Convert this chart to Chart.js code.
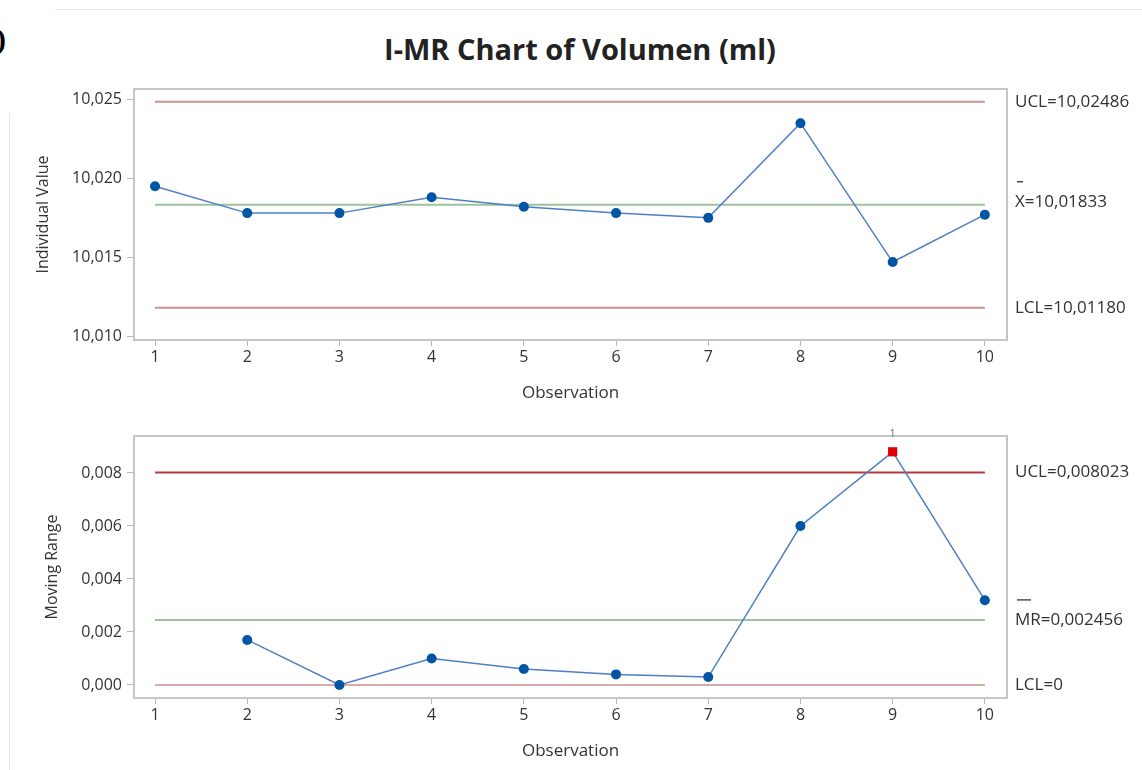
<!DOCTYPE html>
<html>
<head>
<meta charset="UTF-8">
<title>I-MR Chart of Volumen (ml)</title>
<script src="https://cdn.jsdelivr.net/npm/chart.js@4.4.0/dist/chart.umd.min.js"></script>
<style>
    body { margin: 0; background: #fff; width: 1142px; height: 770px; overflow: hidden; position: relative; font-family: 'Open Sans', sans-serif; }
    #title { position: absolute; top: 33px; left: 0; width: 1160px; text-align: center; font-size: 29px; line-height: 32px; font-weight: bold; color: #222; }
    .edge { position: absolute; background: #e8e8e8; }
    #paren { position: absolute; left: -4px; top: 22px; font-family: 'Liberation Serif', serif; font-weight: bold; font-size: 30px; color: #000; }
    canvas { position: absolute; left: 0; }
</style>
</head>
<body>
<div id="paren">)</div>
<div class="edge" style="top:9px; left:55px; width:1087px; height:1px;"></div>
<div class="edge" style="top:113px; left:9px; width:1px; height:657px;"></div>
<div id="title">I-MR Chart of Volumen (ml)</div>
<canvas id="chartI" width="1142" height="410" style="top:0"></canvas>
<canvas id="chartMR" width="1142" height="360" style="top:410px"></canvas>
<script>
    // observations
    const observations = [1, 2, 3, 4, 5, 6, 7, 8, 9, 10];
    // individual values (ml)
    const individualValues = [10.0195, 10.0178, 10.0178, 10.0188, 10.0182, 10.0178, 10.0175, 10.0235, 10.0147, 10.0177];
    // moving ranges (first one undefined)
    const movingRanges = [null, 0.0017, 0.0000, 0.0010, 0.0006, 0.0004, 0.0003, 0.0060, 0.0088, 0.0032];

    const iUCL = 10.02486, iMean = 10.01833, iLCL = 10.01180;
    const mrUCL = 0.008023, mrMean = 0.002456, mrLCL = 0;

    const iTicks = [10.010, 10.015, 10.020, 10.025];
    const mrTicks = [0.000, 0.002, 0.004, 0.006, 0.008];

    const textColor = '#333';
    const font = "'Open Sans', sans-serif";

    function comma(v, n) {
        return v.toFixed(n).replace('.', ',');
    }

    // frame, limit labels on the right, "1" flags for out-of-control points
    const decorPlugin = {
        id: 'decor',
        afterDraw(chart, args, opts) {
            const ctx = chart.ctx;
            const a = chart.chartArea;
            const y = chart.scales.y;
            const x = chart.scales.x;
            ctx.save();
            ctx.strokeStyle = '#c6c6c6';
            ctx.lineWidth = 2;
            ctx.strokeRect(a.left, a.top, a.right - a.left, a.bottom - a.top);

            ctx.font = '17px ' + font;
            ctx.fillStyle = textColor;
            ctx.textBaseline = 'middle';
            ctx.textAlign = 'left';
            opts.labels.forEach(l => {
                const py = y.getPixelForValue(l.value) + (l.dy || 0);
                ctx.fillText(l.text, a.right + 8, py);
                if (l.bar) {
                    ctx.strokeStyle = textColor;
                    ctx.lineWidth = 1.3;
                    ctx.beginPath();
                    ctx.moveTo(a.right + 10, py - 20);
                    ctx.lineTo(a.right + 10 + l.bar, py - 20);
                    ctx.stroke();
                }
            });

            if (opts.flags) {
                ctx.font = '10px ' + font;
                ctx.fillStyle = '#666';
                ctx.textAlign = 'center';
                opts.flags.forEach(o => ctx.fillText('1', x.getPixelForValue(o), a.top - 2));
            }
            ctx.restore();
        }
    };

    function limitLine(value, colour) {
        return {
            data: [{x: observations[0], y: value}, {x: observations[observations.length - 1], y: value}],
            borderColor: colour,
            borderWidth: 2,
            pointRadius: 0,
            order: 2
        };
    }

    function makePanel(canvasId, opts) {
        const ctx = document.getElementById(canvasId).getContext('2d');
        const series = observations.map((o, i) => ({x: o, y: opts.values[i]}));
        const out = opts.values.map(v => v !== null && v > opts.ucl);
        return new Chart(ctx, {
            type: 'line',
            data: {
                datasets: [
                    limitLine(opts.ucl, opts.uclColour),
                    limitLine(opts.mean, '#9cc39c'),
                    limitLine(opts.lcl, opts.lclColour),
                    {
                        data: series,
                        borderColor: '#4d7ec6',
                        borderWidth: 1.5,
                        pointStyle: out.map(b => b ? 'rect' : 'circle'),
                        pointRadius: out.map(b => b ? 6.5 : 5),
                        pointBackgroundColor: out.map(b => b ? '#e00000' : '#0055a5'),
                        pointBorderColor: out.map(b => b ? '#e00000' : '#0055a5'),
                        pointBorderWidth: 0,
                        spanGaps: false,
                        order: 1
                    }
                ]
            },
            options: {
                responsive: false,
                animation: false,
                layout: {padding: {left: 0, right: 135, top: opts.padTop, bottom: 0}},
                plugins: {
                    legend: {display: false},
                    tooltip: {enabled: false},
                    decor: {labels: opts.labels, flags: observations.filter((o, i) => out[i])}
                },
                scales: {
                    x: {
                        type: 'linear',
                        min: 0.772,
                        max: 10.24,
                        afterBuildTicks: s => { s.ticks = observations.map(v => ({value: v})); },
                        afterFit: s => { s.height = opts.xHeight; },
                        ticks: {font: {family: font, size: 16}, color: textColor, padding: 2, autoSkip: false, maxRotation: 0, callback: v => String(v)},
                        grid: {display: true, drawOnChartArea: false, drawTicks: true, tickLength: 6, color: '#b8b8b8'},
                        border: {display: false},
                        title: {display: true, text: 'Observation', color: textColor, font: {family: font, size: 17}, padding: {top: 0, bottom: opts.xTitlePad}}
                    },
                    y: {
                        type: 'linear',
                        min: opts.yMin,
                        max: opts.yMax,
                        afterBuildTicks: s => { s.ticks = opts.ticks.map(v => ({value: v})); },
                        afterFit: s => { s.width = 134; },
                        ticks: {font: {family: font, size: 16}, color: textColor, padding: 5, callback: v => comma(v, 3)},
                        grid: {display: true, drawOnChartArea: false, drawTicks: true, tickLength: 7, color: '#b8b8b8'},
                        border: {display: false},
                        title: {display: true, text: opts.yTitle, color: textColor, font: {family: font, size: 16}, padding: {top: opts.yTitlePad, bottom: 0}}
                    }
                }
            },
            plugins: [decorPlugin]
        });
    }

    makePanel('chartI', {
        values: individualValues,
        ucl: iUCL, mean: iMean, lcl: iLCL,
        uclColour: '#c99393', lclColour: '#c99393',
        yMin: 10.00976, yMax: 10.025665,
        ticks: iTicks,
        yTitle: 'Individual Value',
        yTitlePad: 34,
        padTop: 89,
        xHeight: 70,
        xTitlePad: 7,
        labels: [
            {text: 'UCL=' + comma(iUCL, 5), value: iUCL},
            {text: 'X=' + comma(iMean, 5), value: iMean, dy: -3, bar: 6},
            {text: 'LCL=' + comma(iLCL, 5), value: iLCL}
        ]
    });

    makePanel('chartMR', {
        values: movingRanges,
        ucl: mrUCL, mean: mrMean, lcl: mrLCL,
        uclColour: '#b23a3a', lclColour: '#d9aaaa',
        yMin: -0.000491, yMax: 0.009396,
        ticks: mrTicks,
        yTitle: 'Moving Range',
        yTitlePad: 43,
        padTop: 26,
        xHeight: 72,
        xTitlePad: 9,
        labels: [
            {text: 'UCL=' + comma(mrUCL, 6), value: mrUCL},
            {text: 'MR=' + comma(mrMean, 6), value: mrMean, bar: 14},
            {text: 'LCL=' + mrLCL, value: mrLCL}
        ]
    });
</script>
</body>
</html>
